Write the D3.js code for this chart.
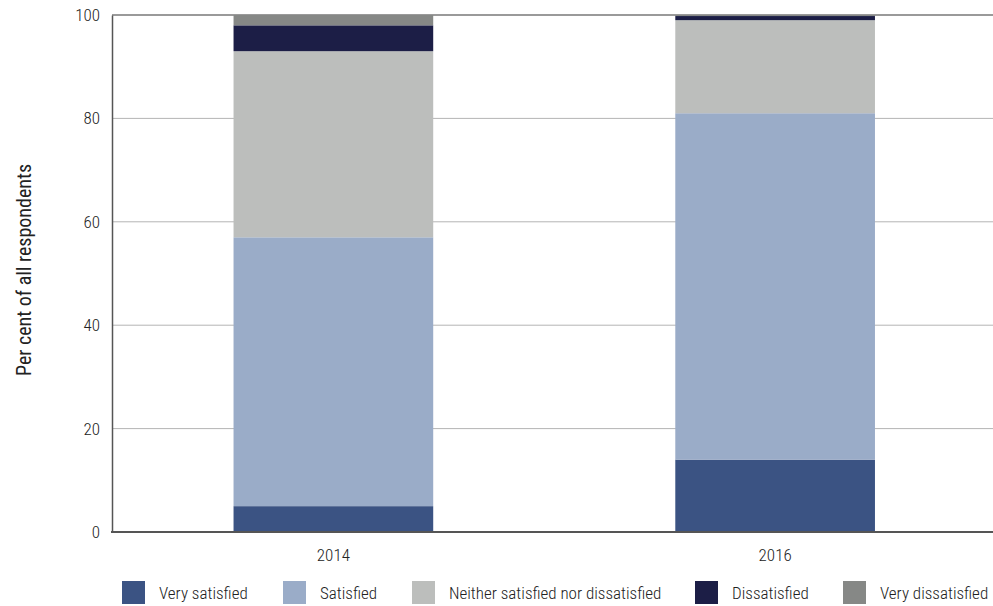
<!DOCTYPE html>
<html><head><meta charset="utf-8">
<script src="https://cdn.jsdelivr.net/npm/d3@7"></script>
<style>
body{margin:0;background:#fff;}
text{font-family:"Liberation Sans Narrow","Roboto Condensed","DejaVu Sans Condensed","Liberation Sans",sans-serif;fill:#222;}
</style></head>
<body><svg id="c" width="993" height="606"></svg>
<script>
const years = ["2014","2016"];
const seriesNames = ["Very satisfied","Satisfied","Neither satisfied nor dissatisfied","Dissatisfied","Very dissatisfied"];
const verySatisfied = [5, 14];
const satisfied = [52, 67];
const neither = [36, 18];
const dissatisfied = [5, 0.8];
const veryDissatisfied = [2, 0.2];
const colors = ["#3b5383","#9aacc8","#bcbebc","#1c1e46","#868886"];
const yTicks = [0,20,40,60,80,100];

(function(){
const seriesValues = [verySatisfied, satisfied, neither, dissatisfied, veryDissatisfied];
const rows = years.map((y,i)=>{const r={year:y}; seriesNames.forEach((s,j)=>r[s]=seriesValues[j][i]); return r;});
const stack = d3.stack().keys(seriesNames)(rows);

const svg = d3.select("#c");
const mLeft=112, mRight=996, mTop=15, mBottom=532;
const x = d3.scaleBand().domain(years).range([mLeft+0.5,mRight]).padding(0);
const barW = x.bandwidth()*0.452;
const y = d3.scaleLinear().domain([0,100]).range([mBottom,mTop]);

svg.append("g").selectAll("line").data(yTicks.filter(t=>t>0)).join("line")
  .attr("x1",mLeft).attr("x2",993).attr("y1",d=>y(d)).attr("y2",d=>y(d))
  .attr("stroke",d=>d===100?"#9a9a9a":"#b4b4b4").attr("stroke-width",d=>d===100?2:1);

svg.append("g").selectAll("g").data(stack).join("g").attr("fill",(d,i)=>colors[i])
  .selectAll("rect").data(d=>d).join("rect")
  .attr("x",d=>x(d.data.year)+x.bandwidth()/2-barW/2)
  .attr("width",barW)
  .attr("y",d=>y(d[1])).attr("height",d=>y(d[0])-y(d[1]));

const ya = svg.append("g").attr("transform",`translate(${mLeft},0)`)
  .call(d3.axisLeft(y).tickValues(yTicks).tickSize(0).tickPadding(12));
ya.select(".domain").attr("stroke","#555").attr("stroke-width",1.5);
ya.selectAll("text").style("font-size","17px").style("font-weight","300").attr("fill","#222");

const xa = svg.append("g").attr("transform",`translate(0,${mBottom})`)
  .call(d3.axisBottom(x).tickSize(0).tickPadding(17));
xa.select(".domain").remove();
svg.append("line").attr("x1",mLeft-1).attr("x2",993).attr("y1",mBottom).attr("y2",mBottom)
  .attr("stroke","#555").attr("stroke-width",2);
xa.selectAll("text").style("font-size","17px").style("font-weight","300").attr("fill","#222");

svg.append("text").attr("transform","translate(31,270) rotate(-90)")
  .attr("text-anchor","middle").style("font-size","20px").style("font-weight","normal")
  .attr("fill","#000").text("Per cent of all respondents");

const legX=[122,283,412,695,843];
const lg = svg.append("g").selectAll("g").data(seriesNames).join("g")
  .attr("transform",(d,i)=>`translate(${legX[i]},581)`);
lg.append("rect").attr("width",23).attr("height",23).attr("fill",(d,i)=>colors[i]);
lg.append("text").attr("x",37).attr("y",18).style("font-size","17px").style("font-weight","300").attr("fill","#222").text(d=>d);
})();
</script></body></html>
